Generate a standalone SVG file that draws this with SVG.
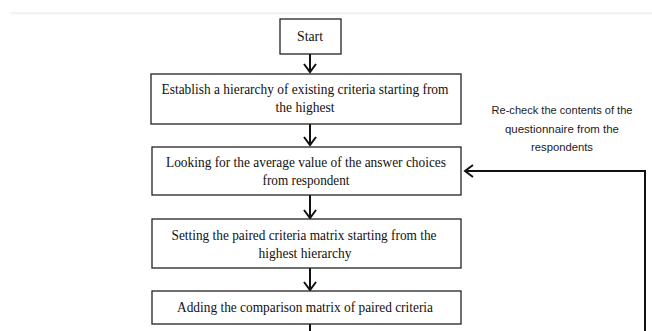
<svg xmlns="http://www.w3.org/2000/svg" width="652" height="331" viewBox="0 0 652 331">
<style>
.box{fill:#fff;stroke:#222;stroke-width:1.3}
.t{font-family:"Liberation Serif","Times New Roman",serif;font-size:14.5px;fill:#111;text-anchor:middle}
.n{font-family:"Liberation Sans",Arial,sans-serif;font-size:10.5px;fill:#222;text-anchor:middle}
.c{fill:none;stroke:#111;stroke-width:2}
</style>
<defs>
<marker id="ah" markerUnits="userSpaceOnUse" markerWidth="12" markerHeight="14" viewBox="0 0 12 14" refX="10" refY="7" orient="auto">
<path d="M2,1 L10,7 L2,13" fill="none" stroke="#111" stroke-width="2"/>
</marker>
</defs>
<rect width="652" height="331" fill="#fff"/>
<rect x="11" y="12" width="641" height="2.5" fill="#f1f3f5"/>
<g id="connectors">
<line class="c" x1="310" y1="54" x2="310" y2="72" marker-end="url(#ah)"/>
<line class="c" x1="310" y1="124" x2="310" y2="145" marker-end="url(#ah)"/>
<line class="c" x1="310" y1="195" x2="310" y2="218" marker-end="url(#ah)"/>
<line class="c" x1="310" y1="268" x2="310" y2="290" marker-end="url(#ah)"/>
<line class="c" x1="310" y1="324" x2="310" y2="331"/>
<polyline class="c" points="645,331 645,171 465,171" marker-end="url(#ah)"/>
</g>
<g id="start">
<rect class="box" x="280" y="19" width="61" height="35"/>
<text class="t" x="310" y="41" textLength="26" lengthAdjust="spacingAndGlyphs">Start</text>
</g>
<g id="step1">
<rect class="box" x="151" y="74" width="310" height="50"/>
<text class="t" x="305" y="94" textLength="287" lengthAdjust="spacingAndGlyphs">Establish a hierarchy of existing criteria starting from</text>
<text class="t" x="305" y="112" textLength="59" lengthAdjust="spacingAndGlyphs">the highest</text>
</g>
<g id="step2">
<rect class="box" x="152" y="147" width="309" height="48"/>
<text class="t" x="306" y="167" textLength="280" lengthAdjust="spacingAndGlyphs">Looking for the average value of the answer choices</text>
<text class="t" x="306" y="185" textLength="87" lengthAdjust="spacingAndGlyphs">from respondent</text>
</g>
<g id="step3">
<rect class="box" x="152" y="219" width="309" height="49"/>
<text class="t" x="304" y="240" textLength="265" lengthAdjust="spacingAndGlyphs">Setting the paired criteria matrix starting from the</text>
<text class="t" x="305" y="258" textLength="93" lengthAdjust="spacingAndGlyphs">highest hierarchy</text>
</g>
<g id="step4">
<rect class="box" x="152" y="291" width="309" height="33"/>
<text class="t" x="305" y="312" textLength="256" lengthAdjust="spacingAndGlyphs">Adding the comparison matrix of paired criteria</text>
</g>
<g id="feedback-label">
<text class="n" x="562" y="114" textLength="141" lengthAdjust="spacingAndGlyphs">Re-check the contents of the</text>
<text class="n" x="562" y="133" textLength="114" lengthAdjust="spacingAndGlyphs">questionnaire from the</text>
<text class="n" x="562" y="151" textLength="62" lengthAdjust="spacingAndGlyphs">respondents</text>
</g>
</svg>
